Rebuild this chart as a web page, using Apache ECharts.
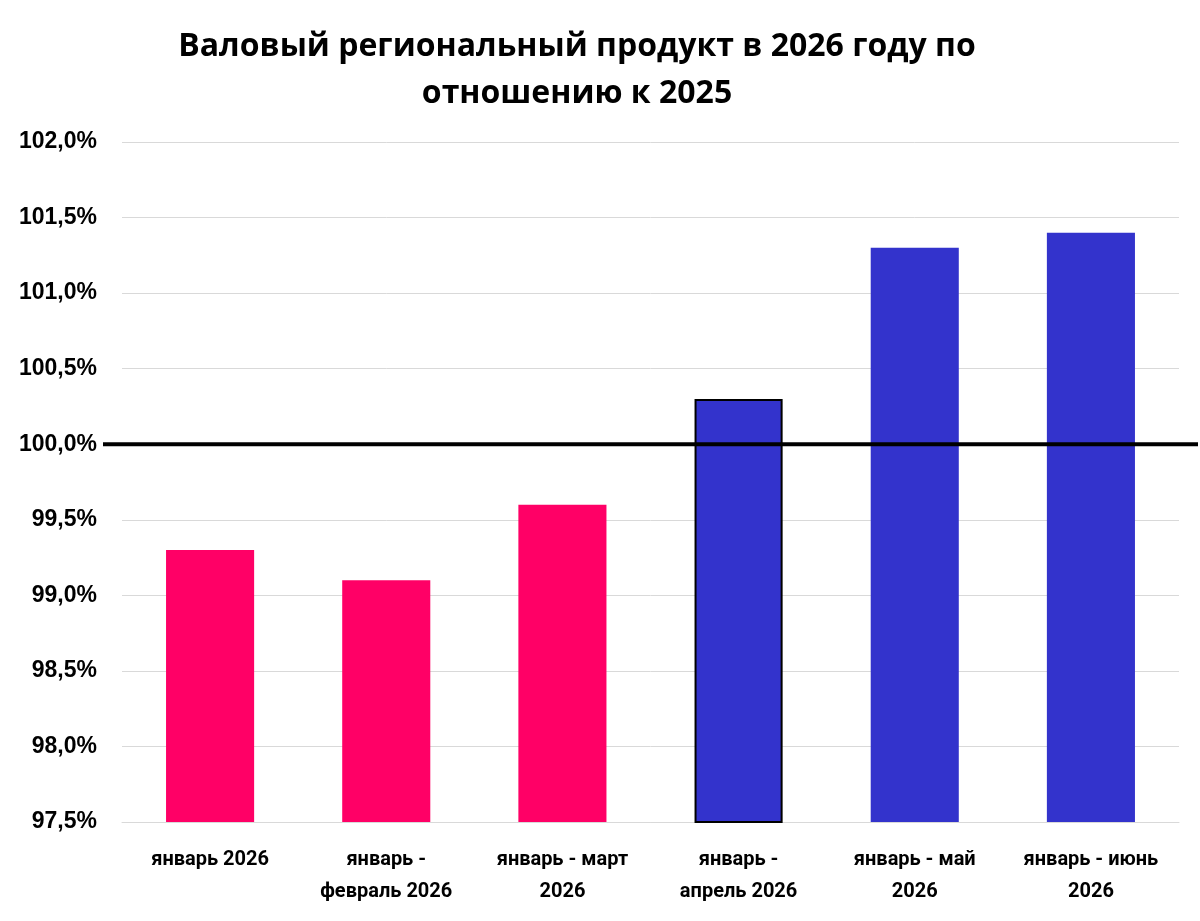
<!DOCTYPE html>
<html>
<head>
<meta charset="utf-8">
<script src="https://cdn.jsdelivr.net/npm/echarts@6/dist/echarts.min.js"></script>
<style>
  html, body { margin: 0; padding: 0; background: #fff; }
  #chart { width: 1200px; height: 921px; }
</style>
</head>
<body>
<div id="chart"></div>
<script>
// periods on the x axis
const periods = [
  'январь 2026',
  'январь -\nфевраль 2026',
  'январь - март\n2026',
  'январь -\nапрель 2026',
  'январь - май\n2026',
  'январь - июнь\n2026'
];
// growth vs 2025, percent
const grpValues = [99.3, 99.1, 99.6, 100.3, 101.3, 101.4];
const barColors = ['#FF0066', '#FF0066', '#FF0066', '#3333CC', '#3333CC', '#3333CC'];
const baseLevel = 100;

const chart = echarts.init(document.getElementById('chart'));

const barData = grpValues.map((v, i) => {
  const item = { value: v, itemStyle: { color: barColors[i] } };
  // the april bar is outlined in the original
  if (i === 3) {
    item.itemStyle.borderColor = '#000';
    item.itemStyle.borderWidth = 2;
  }
  return item;
});

chart.setOption({
  animation: false,
  backgroundColor: '#fff',
  title: {
    text: 'Валовый региональный продукт в 2026 году по\nотношению к 2025',
    left: 572,
    top: 18,
    textAlign: 'center',
    textStyle: {
      fontFamily: 'Open Sans',
      fontWeight: 'bold',
      fontSize: 32,
      lineHeight: 47,
      color: '#000'
    }
  },
  grid: { left: 122, right: 21, top: 142, bottom: 99 },
  xAxis: {
    type: 'category',
    data: periods,
    axisTick: { show: false },
    axisLine: { lineStyle: { color: '#d9d9d9', width: 1 } },
    axisLabel: {
      margin: 22,
      fontFamily: 'Roboto',
      fontWeight: 'bold',
      fontSize: 20,
      lineHeight: 32,
      color: '#000'
    }
  },
  yAxis: {
    type: 'value',
    min: 97.5,
    max: 102,
    interval: 0.5,
    axisLine: { show: false },
    axisTick: { show: false },
    splitLine: { lineStyle: { color: '#d9d9d9', width: 1 } },
    axisLabel: {
      margin: 25,
      fontFamily: 'Liberation Sans',
      fontWeight: 'bold',
      fontSize: 23,
      color: '#000',
      formatter: v => v.toFixed(1).replace('.', ',') + '%'
    }
  },
  series: [{
    type: 'bar',
    data: barData,
    barWidth: '50%'
  }]
});

// 100% reference line, runs a bit past the plot on both sides
const baseY = chart.convertToPixel({ yAxisIndex: 0 }, baseLevel);
chart.setOption({
  graphic: [{
    type: 'line',
    z: 100,
    shape: { x1: 103, y1: baseY, x2: 1198, y2: baseY },
    style: { stroke: '#000', lineWidth: 4 }
  }]
});
</script>
</body>
</html>
